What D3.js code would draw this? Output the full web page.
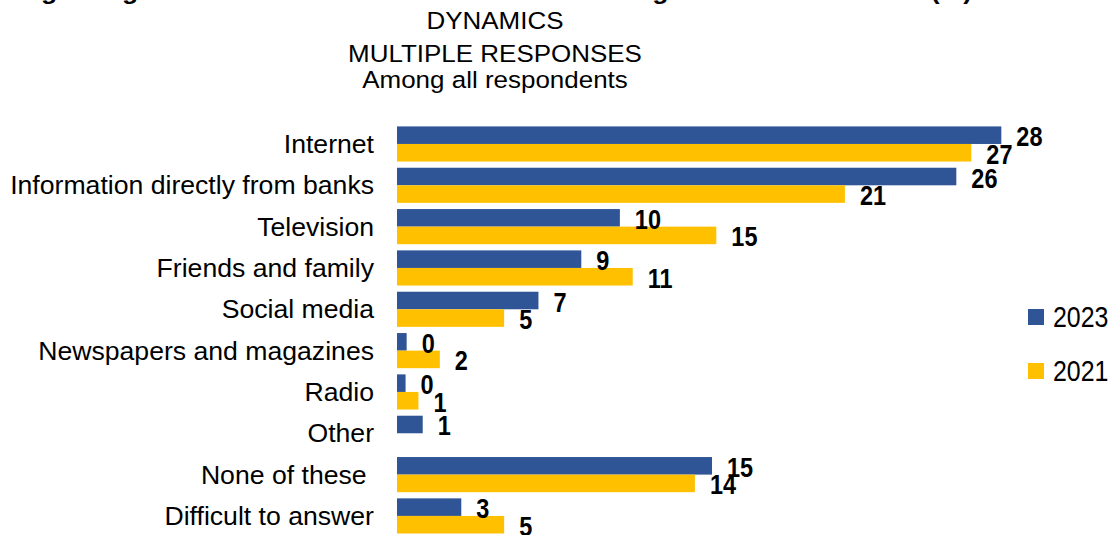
<!DOCTYPE html>
<html>
<head>
<meta charset="utf-8">
<script src="https://cdn.jsdelivr.net/npm/d3@7"></script>
<style>
  body { margin: 0; background: #fff; }
  svg { display: block; }
  text { font-family: "Liberation Sans", Arial, Helvetica, sans-serif; fill: #000; white-space: pre; }
</style>
</head>
<body>
<svg id="chart" width="1112" height="535"></svg>
<script>
// Sources of information, share of respondents (%), two survey waves
const categories = [
  "Internet",
  "Information directly from banks",
  "Television",
  "Friends and family",
  "Social media",
  "Newspapers and magazines",
  "Radio",
  "Other",
  "None of these ",
  "Difficult to answer"
];
const values2023 = [28.2, 26.1, 10.4, 8.6, 6.6, 0.45, 0.4, 1.2, 14.7, 3.0];
const values2021 = [26.8, 20.9, 14.9, 11.0, 5.0, 2.0, 1.0, null, 13.9, 5.0];
const seriesNames = ["2023", "2021"];
const seriesColors = ["#2F5597", "#FFC000"];
const headline = "Regarding sources of information about the banking sector and services (%)";
const subtitleLines = ["DYNAMICS", "MULTIPLE RESPONSES", "Among all respondents"];

const svg = d3.select("#chart");

const x = d3.scaleLinear().domain([0, 30]).range([397, 397 + 30 * 21.43]);
const y = d3.scaleBand().domain(categories).range([123.3, 536.6])
  .paddingInner(0.15).paddingOuter(0.075);
const ySub = d3.scaleBand().domain(seriesNames).range([0, y.bandwidth()]);
const color = d3.scaleOrdinal().domain(seriesNames).range(seriesColors);

const rows = categories.map((c, i) => ({
  category: c,
  values: [
    { series: "2023", value: values2023[i] },
    { series: "2021", value: values2021[i] }
  ].filter(d => d.value !== null)
}));

// helper: text placed at (px, py), optionally stretched horizontally
function label(parent, px, py, str, opts) {
  const g = parent.append("g")
    .attr("transform", `translate(${px},${py}) scale(${opts.sx || 1},1)`);
  return g.append("text")
    .attr("text-anchor", opts.anchor || "start")
    .attr("font-size", opts.size)
    .attr("font-weight", opts.weight || "normal")
    .text(str);
}

// headline (runs off the top edge)
svg.append("text")
  .attr("x", 7).attr("y", -1)
  .attr("font-size", 24).attr("font-weight", "bold")
  .attr("textLength", 965).attr("lengthAdjust", "spacingAndGlyphs")
  .text(headline);

// subtitle lines
const subBase = [28.5, 61.7, 88.3];
subtitleLines.forEach((t, i) => {
  label(svg, 495, subBase[i], t, { size: 23.3, sx: 1.115, anchor: "middle" });
});

// category labels
const catG = svg.append("g");
categories.forEach(c => {
  label(catG, 374, y(c) + y.bandwidth() / 2 + 9, c, { size: 25, sx: 1.065, anchor: "end" });
});

// bars
const groups = svg.append("g").selectAll("g.row")
  .data(rows).join("g")
  .attr("class", "row")
  .attr("transform", d => `translate(0,${y(d.category)})`);

groups.selectAll("rect")
  .data(d => d.values)
  .join("rect")
  .attr("x", x(0))
  .attr("y", d => ySub(d.series))
  .attr("width", d => x(d.value) - x(0))
  .attr("height", ySub.bandwidth())
  .attr("fill", d => color(d.series));

// value labels
const fmt = d3.format(".0f");
groups.each(function (d) {
  const g = d3.select(this);
  d.values.forEach(v => {
    const cy = ySub(v.series) + ySub.bandwidth() / 2 + 1;
    label(g, x(v.value) + 15, cy + 10, fmt(v.value), { size: 28, sx: 0.84, weight: "bold" });
  });
});

// legend
const legendY = [309, 363];
seriesNames.forEach((s, i) => {
  svg.append("rect")
    .attr("x", 1028).attr("y", legendY[i])
    .attr("width", 16).attr("height", 16)
    .attr("fill", color(s));
  label(svg, 1053, legendY[i] + 18, s, { size: 29, sx: 0.86 });
});
</script>
</body>
</html>
